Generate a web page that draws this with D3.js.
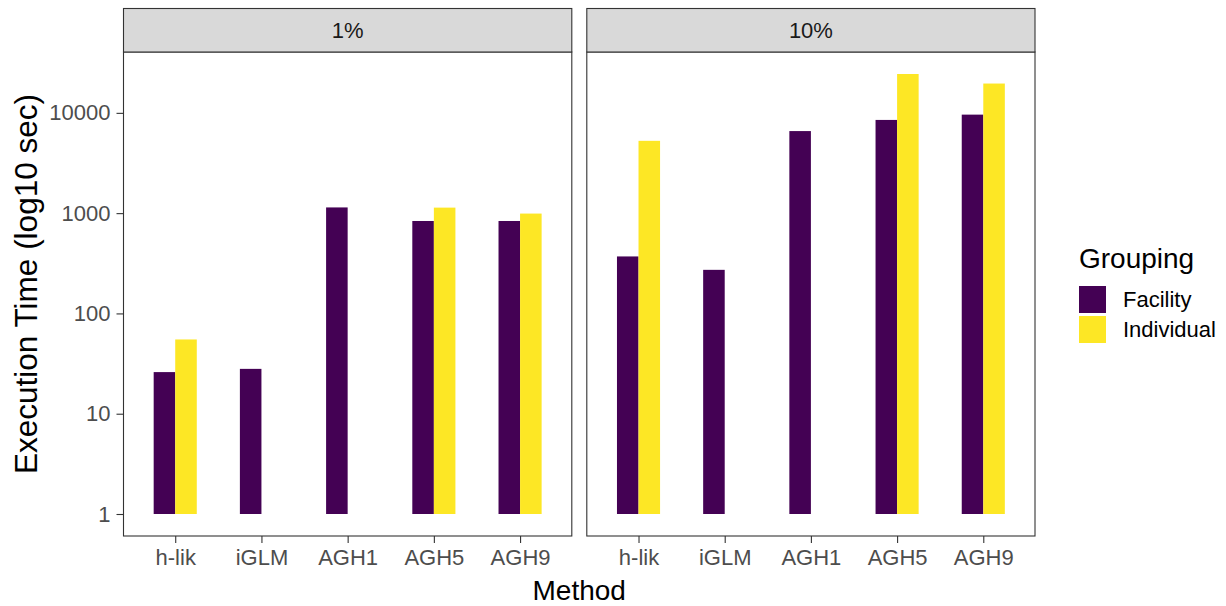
<!DOCTYPE html>
<html>
<head>
<meta charset="utf-8">
<script src="https://cdn.jsdelivr.net/npm/d3@7"></script>
<style>
  html, body { margin: 0; padding: 0; background: #fff; }
  svg { display: block; font-family: "Liberation Sans", Arial, sans-serif; }
</style>
</head>
<body>
<svg id="chart" width="1226" height="606"></svg>
<script>
// Execution time per method, by sampling fraction and grouping
const methods = ["h-lik", "iGLM", "AGH1", "AGH5", "AGH9"];
const panels = ["1%", "10%"];
const groups = ["Facility", "Individual"];
const facility1 = [26, 28, 1140, 835, 835];
const individual1 = [55, null, null, 1135, 990];
const facility10 = [370, 272, 6580, 8500, 9600];
const individual10 = [5260, null, null, 24400, 19600];
const yTicks = [1, 10, 100, 1000, 10000];
const groupColors = ["#440154", "#FDE725"];

const panelData = [
  { label: panels[0], series: [facility1, individual1] },
  { label: panels[1], series: [facility10, individual10] }
];

const svg = d3.select("#chart");
const panelTop = 52, panelBottom = 536;
const stripTop = 8.5;
const panelX = [[123.5, 571.8], [586.8, 1035]];

// log scale with ggplot-style 5% expansion around [1, max]
const maxVal = d3.max([facility1, individual1, facility10, individual10].flat().filter(v => v != null));
const lo = 0, hi = Math.log10(maxVal);
const pad = 0.05 * (hi - lo);
const y = d3.scaleLog()
  .domain([Math.pow(10, lo - pad), Math.pow(10, hi + pad)])
  .range([panelBottom, panelTop]);

const color = d3.scaleOrdinal().domain(groups).range(groupColors);

panelData.forEach((pd, pi) => {
  const [x0, x1] = panelX[pi];
  const x = d3.scalePoint().domain(methods).range([x0, x1]).padding(0.6);
  const step = x.step();
  const dodge = d3.scaleBand().domain(groups).range([-step * 0.25, step * 0.25]).padding(0);

  const g = svg.append("g");

  // bars start at 1 on the log axis
  pd.series.forEach((vals, gi) => {
    g.selectAll(null)
      .data(methods.map((m, i) => ({ m, v: vals[i] })).filter(d => d.v != null))
      .join("rect")
      .attr("x", d => x(d.m) + dodge(groups[gi]))
      .attr("width", dodge.bandwidth())
      .attr("y", d => y(d.v))
      .attr("height", d => y(1) - y(d.v))
      .attr("fill", color(groups[gi]));
  });

  // panel border
  g.append("rect")
    .attr("x", x0).attr("y", panelTop)
    .attr("width", x1 - x0).attr("height", panelBottom - panelTop)
    .attr("fill", "none").attr("stroke", "#333").attr("stroke-width", 1.1);

  // strip
  g.append("rect")
    .attr("x", x0).attr("y", stripTop)
    .attr("width", x1 - x0).attr("height", panelTop - stripTop)
    .attr("fill", "#D9D9D9").attr("stroke", "#333").attr("stroke-width", 1.1);
  g.append("text")
    .attr("x", (x0 + x1) / 2).attr("y", (stripTop + panelTop) / 2 + 7.5)
    .attr("text-anchor", "middle")
    .attr("font-size", 22).attr("fill", "#1A1A1A")
    .text(pd.label);

  // x axis
  const xAxis = g.append("g")
    .attr("transform", `translate(0,${panelBottom})`)
    .call(d3.axisBottom(x).tickSize(7).tickPadding(6));
  xAxis.select(".domain").remove();
  xAxis.selectAll(".tick line").attr("stroke", "#333").attr("stroke-width", 1.1);
  xAxis.selectAll(".tick text")
    .attr("font-size", 22).attr("fill", "#4D4D4D")
    .attr("font-family", "Liberation Sans, Arial, sans-serif");

  // y axis on the first panel only
  if (pi === 0) {
    const yAxis = g.append("g")
      .attr("transform", `translate(${x0},0)`)
      .call(d3.axisLeft(y).tickValues(yTicks).tickFormat(d3.format("d")).tickSize(7).tickPadding(6));
    yAxis.select(".domain").remove();
    yAxis.selectAll(".tick line").attr("stroke", "#333").attr("stroke-width", 1.1);
    yAxis.selectAll(".tick text")
      .attr("font-size", 22).attr("fill", "#4D4D4D")
      .attr("font-family", "Liberation Sans, Arial, sans-serif");
  }
});

// axis titles
svg.append("text")
  .attr("x", (panelX[0][0] + panelX[1][1]) / 2).attr("y", 600)
  .attr("text-anchor", "middle").attr("font-size", 28).attr("fill", "#000")
  .text("Method");
svg.append("text")
  .attr("transform", "translate(37,284) rotate(-90)")
  .attr("text-anchor", "middle").attr("font-size", 31.5).attr("fill", "#000")
  .text("Execution Time (log10 sec)");

// legend
const legend = svg.append("g").attr("transform", "translate(1079,0)");
legend.append("text")
  .attr("x", 0).attr("y", 268)
  .attr("font-size", 28).attr("fill", "#000")
  .text("Grouping");
groups.forEach((gname, i) => {
  const ky = 286 + i * 30;
  legend.append("rect")
    .attr("x", 0).attr("y", ky).attr("width", 27).attr("height", 27)
    .attr("fill", color(gname));
  legend.append("text")
    .attr("x", 44).attr("y", ky + 21)
    .attr("font-size", 22).attr("fill", "#000")
    .text(gname);
});
</script>
</body>
</html>
